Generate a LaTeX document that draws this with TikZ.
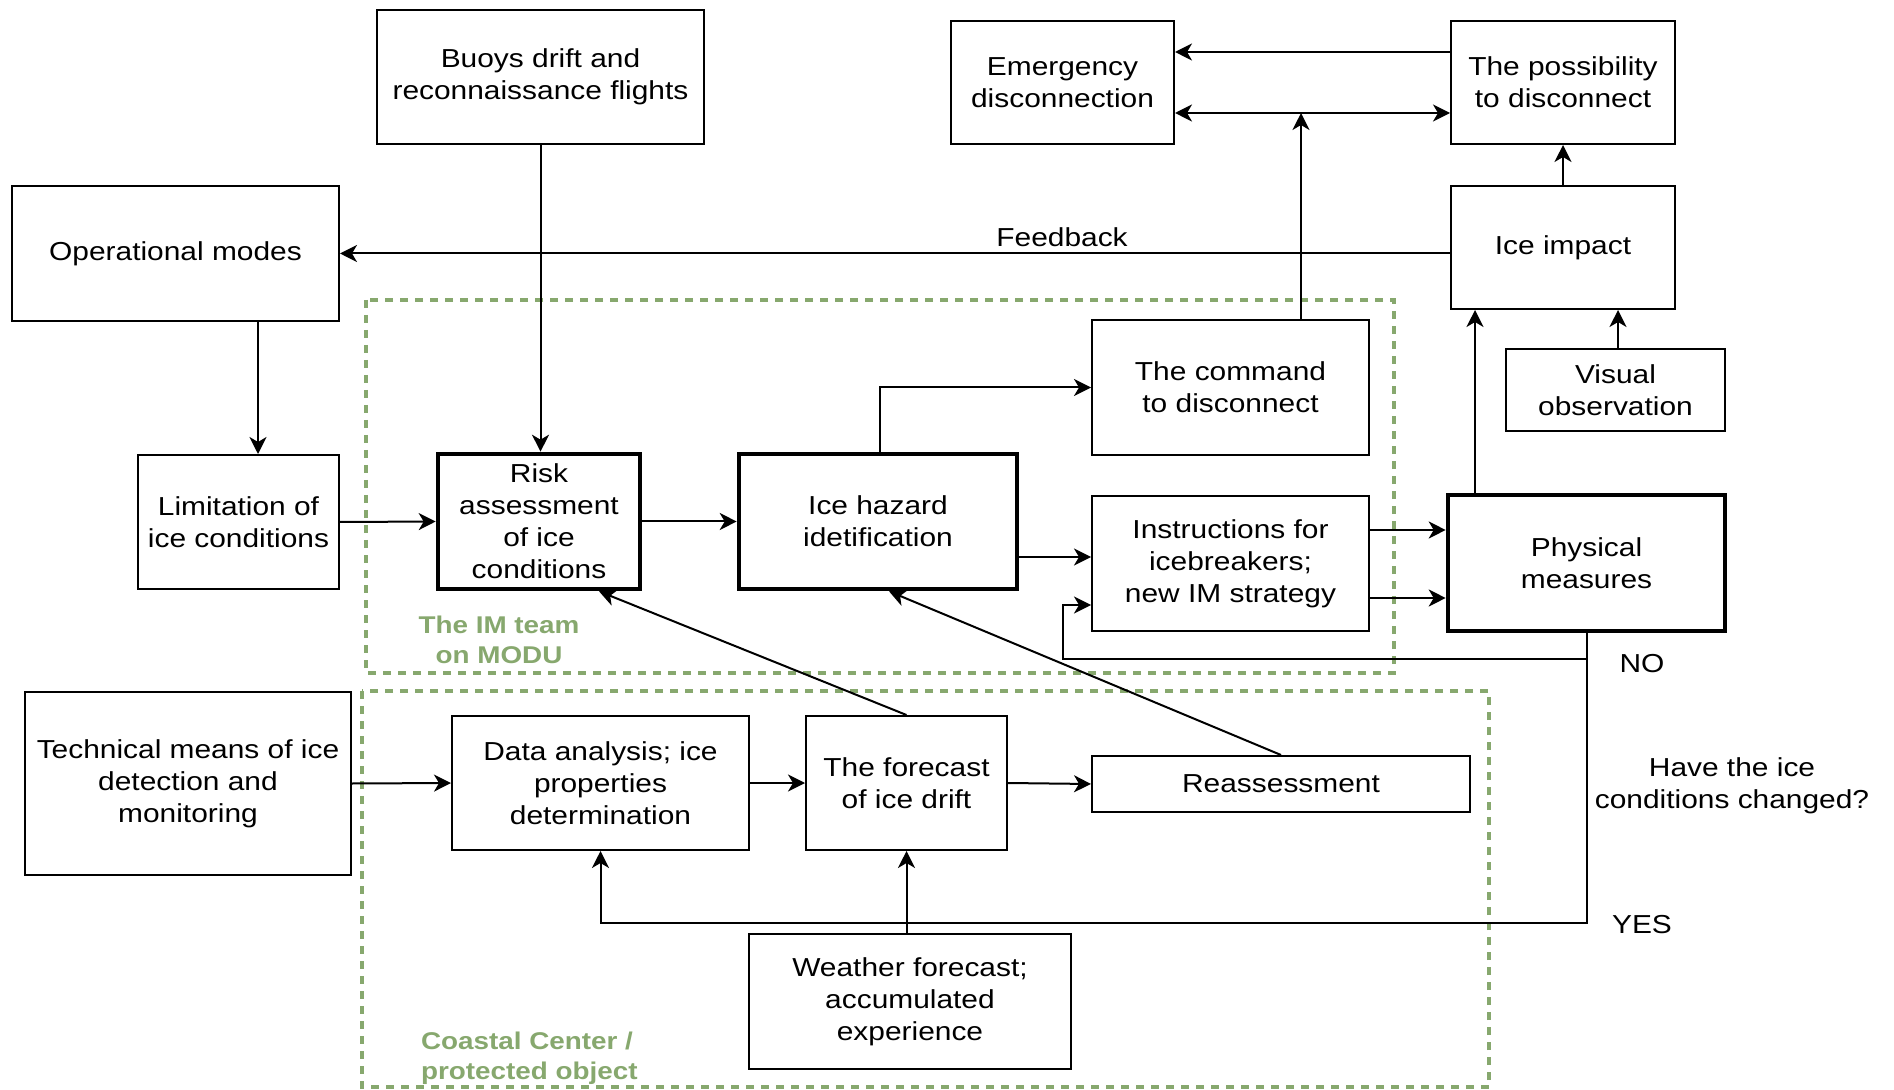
\documentclass[tikz,border=0pt]{standalone}
\usepackage{fontspec}
\setmainfont{Liberation Sans}[FakeStretch=1.15]
\usetikzlibrary{arrows.meta}
\definecolor{grn}{RGB}{135,168,110}
\newcommand\mybox[7]{%
  \pgfmathsetmacro\bxw{(#5-#3)*0.5}%
  \pgfmathsetmacro\bxh{(#6-#4)*0.5}%
  \node[#1, minimum width=\bxw pt, minimum height=\bxh pt] (#2) at ({(#3+#5)/2},{(#4+#6)/2}) {#7};%
}
\begin{document}
\begin{tikzpicture}[x=0.5pt,y=-0.5pt,
  txt/.style={font=\fontsize{13}{16}\selectfont, align=center},
  box/.style={draw, line width=1pt, inner sep=0pt, txt},
  tbox/.style={box, line width=2.3pt},
  ln/.style={line width=1pt},
  tip/.tip={Stealth[length=8.5pt,width=8.5pt,inset=2.5pt]},
  arr/.style={ln, -tip},
  grp/.style={draw=grn, line width=1.6pt, dash pattern=on 4pt off 3.5pt},
  glab/.style={text=grn, font=\bfseries\fontsize{12.1}{15}\selectfont}
]
\fill[white] (0,0) rectangle (1894,1090);
\useasboundingbox (0,0) rectangle (1894,1090);

% groups
\draw[grp] (366,300) rectangle (1394,673);
\draw[grp] (362,691) rectangle (1489,1087);
\node[glab, align=center] (imlab) at (499,640) {The IM team\\on MODU};
\node[glab, align=left, anchor=west] (cclab) at (414,1058) {Coastal Center /\\protected object};

% boxes
\mybox{box}{buoys}{377}{10}{704}{144}{Buoys drift and\\reconnaissance flights}
\mybox{box}{ops}{12}{186}{339}{321}{Operational modes}
\mybox{box}{emerg}{951}{21}{1174}{144}{Emergency\\disconnection}
\mybox{box}{poss}{1451}{21}{1675}{144}{The possibility\\to disconnect}
\mybox{box}{impact}{1451}{186}{1675}{309}{Ice impact}
\mybox{box}{vis}{1506}{349}{1725}{431}{Visual\\observation}
\mybox{box}{cmd}{1092}{320}{1369}{455}{The command\\to disconnect}
\mybox{box}{lim}{138}{455}{339}{589}{Limitation of\\ice conditions}
\mybox{tbox}{risk}{438}{454}{640}{589}{Risk\\assessment\\of ice\\conditions}
\mybox{tbox}{hazard}{739}{454}{1017}{589}{Ice hazard\\idetification}
\mybox{box}{instr}{1092}{496}{1369}{631}{Instructions for\\icebreakers;\\new IM strategy}
\mybox{tbox}{phys}{1448}{495}{1725}{631}{Physical\\measures}
\mybox{box}{tech}{25}{692}{351}{875}{Technical means of ice\\detection and\\monitoring}
\mybox{box}{data}{452}{716}{749}{850}{Data analysis; ice\\properties\\determination}
\mybox{box}{fore}{806}{716}{1007}{850}{The forecast\\of ice drift}
\mybox{box}{reass}{1092}{756}{1470}{812}{Reassessment}
\mybox{box}{weather}{749}{934}{1071}{1069}{Weather forecast;\\accumulated\\experience}

% free labels
\node[txt] (fb) at (1062,237) {Feedback};
\node[txt] (no) at (1642,664) {NO};
\node[txt] (yes) at (1642,925) {YES};
\node[txt] (q) at (1732,786) {Have the ice\\conditions changed?};

% helper coordinates
\coordinate (c1) at (258,0);
\coordinate (c2) at (880,0);
\coordinate (c3) at (0,557);
\coordinate (c4) at (0,530);
\coordinate (c5) at (0,598);
\coordinate (c6) at (0,605);
\coordinate (nocorner) at (1063,659);
\coordinate (yescorner) at (0,923);
\coordinate (c7) at (599,0);
\coordinate (c8) at (889,0);
\coordinate (c9) at (1301,113);
\coordinate (c10) at (0,113);
\coordinate (c11) at (0,52);
\coordinate (c12) at (1475,0);
\coordinate (c13) at (1618,0);

% connectors
\draw[arr] (buoys.south) -- (buoys.south |- risk.north);
\draw[arr] (ops.east -| impact.west) -- (ops.east);
\draw[arr] (ops.south -| c1) -- (lim.north -| c1);
\draw[arr] (lim.east) -- (risk.west);
\draw[arr] (risk.east) -- (hazard.west);
\draw[arr] (hazard.north -| c2) |- (cmd.west);
\draw[arr] (hazard.east |- c3) -- (instr.west |- c3);
\draw[arr] (instr.east |- c4) -- (phys.west |- c4);
\draw[arr] (instr.east |- c5) -- (phys.west |- c5);
\draw[arr] (phys.south) |- (nocorner) |- (instr.west |- c6);
\draw[arr] (phys.south) -- (phys.south |- yescorner) -| (data.south);
\draw[arr] (tech.east) -- (data.west);
\draw[arr] (data.east) -- (fore.west);
\draw[arr] (fore.east) -- (reass.west);
\draw[arr] (fore.north) -- (risk.south -| c7);
\draw[arr] (reass.north) -- (hazard.south -| c8);
\draw[arr] (fore.south |- weather.north) -- (fore.south);
\draw[arr] (cmd.north -| c9) -- (c9);
\draw[ln, tip-tip] (emerg.east |- c10) -- (poss.west |- c10);
\draw[arr] (poss.west |- c11) -- (emerg.east |- c11);
\draw[arr] (impact.north) -- (poss.south);
\draw[arr] (phys.north -| c12) -- (impact.south -| c12);
\draw[arr] (vis.north -| c13) -- (impact.south -| c13);
\end{tikzpicture}
\end{document}
